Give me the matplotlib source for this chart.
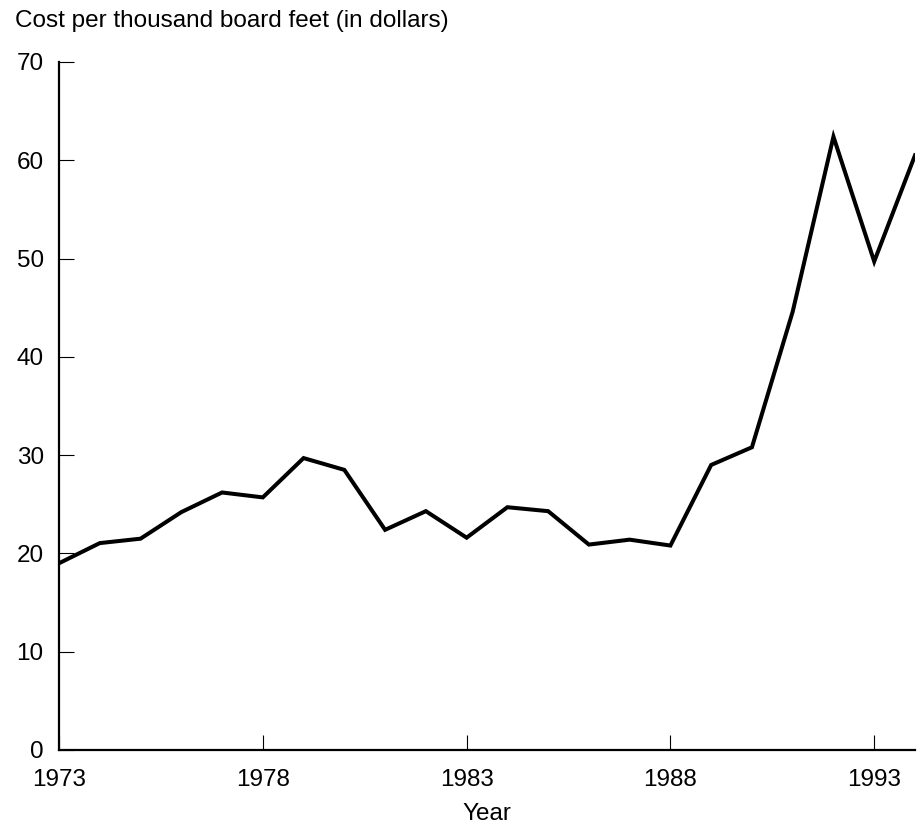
import matplotlib
matplotlib.use('Agg')
import matplotlib.pyplot as plt

plt.rcParams['font.family'] = ['Liberation Sans', 'DejaVu Sans']

# 数据
years = [1973, 1974, 1975, 1976, 1977, 1978, 1979, 1980, 1981, 1982, 1983,
         1984, 1985, 1986, 1987, 1988, 1989, 1990, 1991, 1992, 1993, 1994]
cost = [19.0, 21.05, 21.5, 24.2, 26.2, 25.7, 29.7, 28.5, 22.4, 24.3, 21.6,
        24.7, 24.3, 20.9, 21.4, 20.8, 29.0, 30.8, 44.6, 62.4, 49.7, 60.5]
xticks = [1973, 1978, 1983, 1988, 1993]
yticks = [0, 10, 20, 30, 40, 50, 60, 70]

fig = plt.figure(figsize=(9.18, 8.23), dpi=100)
ax = fig.add_axes([0.0643, 0.0887, 0.9324, 0.836])

ax.plot(years, cost, color='black', linewidth=2.9, solid_joinstyle='miter')

ax.set_xlim(1973, 1994)
ax.set_ylim(0, 70)
ax.set_xticks(xticks)
ax.set_yticks(yticks)
ax.spines['top'].set_visible(False)
ax.spines['right'].set_visible(False)
ax.spines['left'].set_linewidth(1.6)
ax.spines['bottom'].set_linewidth(1.6)
ax.tick_params(direction='in', length=11, width=0.8, labelsize=17.5)
ax.tick_params(axis='y', pad=11)
ax.tick_params(axis='x', pad=14)

fig.text(0.016, 0.975, 'Cost per thousand board feet (in dollars)', fontsize=17.5,
         ha='left', va='center')
ax.set_xlabel('Year', fontsize=17.5, labelpad=8)

plt.savefig('out.png', dpi=100)
plt.close()
